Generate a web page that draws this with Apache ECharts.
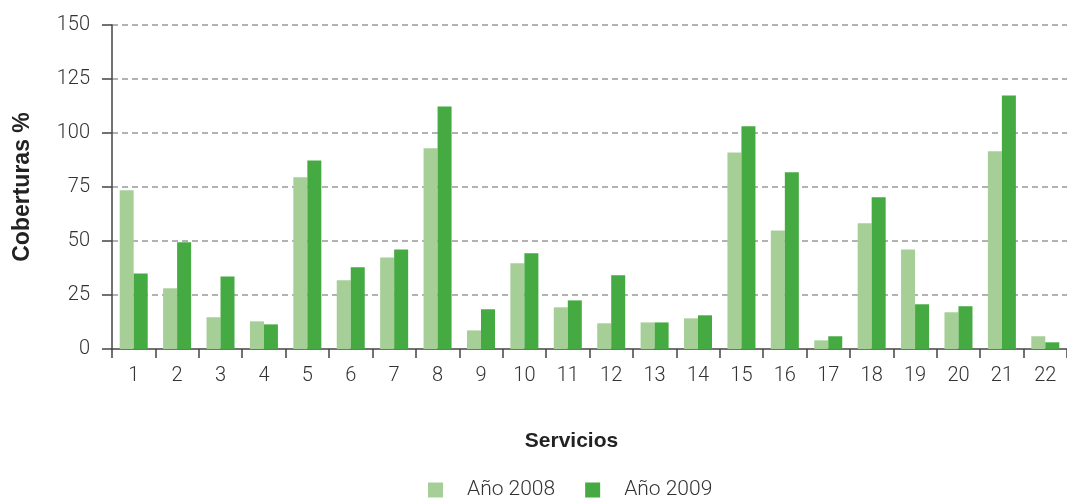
<!DOCTYPE html>
<html>
<head>
<meta charset="utf-8">
<script src="https://cdn.jsdelivr.net/npm/echarts@6/dist/echarts.min.js"></script>
<style>
  html, body { margin: 0; padding: 0; background: #fff; }
  #chart { width: 1067px; height: 498px; }
</style>
</head>
<body>
<div id="chart"></div>
<script>
// servicios 1..22
const servicios = ['1','2','3','4','5','6','7','8','9','10','11','12','13','14','15','16','17','18','19','20','21','22']
const anio2008 = [73.5, 28.1, 14.7, 12.8, 79.5, 31.8, 42.4, 92.9, 8.6, 39.7, 19.3, 11.9, 12.3, 14.2, 91.0, 54.9, 4.0, 58.2, 46.1, 17.0, 91.5, 5.9]
const anio2009 = [34.9, 49.4, 33.6, 11.4, 87.3, 37.8, 46.1, 112.3, 18.4, 44.3, 22.5, 34.1, 12.3, 15.6, 103.1, 81.8, 5.9, 70.2, 20.7, 19.8, 117.4, 3.1]
const yTicks = [0, 25, 50, 75, 100, 125, 150]

const lightFont = 'Roboto, "Liberation Sans", sans-serif'
const boldFont = '"Liberation Sans", Arial, sans-serif'
const chart = echarts.init(document.getElementById('chart'))

chart.setOption({
  animation: false,
  grid: {
    left: 112,
    right: 0,
    top: 25,
    bottom: 149,
  },
  legend: {
    top: 479,
    left: 428,
    icon: 'rect',
    itemWidth: 15,
    itemHeight: 15,
    itemGap: 30,
    padding: 0,
    textStyle: { fontFamily: lightFont, fontSize: 21, lineHeight: 22, color: '#333', fontWeight: 300, padding: [0, 0, 0, 19] },
    data: ['Año 2008', 'Año 2009'],
  },
  xAxis: {
    type: 'category',
    data: servicios,
    name: 'Servicios',
    nameLocation: 'middle',
    nameGap: 82,
    nameTextStyle: { fontFamily: boldFont, fontSize: 21, fontWeight: 'bold', color: '#222', padding: [0, 36, 0, 0] },
    axisLine: { lineStyle: { color: '#444', width: 1.5 } },
    axisTick: { show: true, length: 9, alignWithLabel: false, lineStyle: { color: '#444', width: 1.5 } },
    axisLabel: { fontFamily: lightFont, fontSize: 20, color: '#333', fontWeight: 300, margin: 17 },
  },
  yAxis: {
    type: 'value',
    min: 0,
    max: 150,
    interval: 25,
    name: 'Coberturas %',
    nameLocation: 'middle',
    nameGap: 78,
    nameRotate: 90,
    nameTextStyle: { fontFamily: boldFont, fontSize: 23, fontWeight: 'bold', color: '#222' },
    axisLine: { show: true, lineStyle: { color: '#444', width: 1.5 } },
    axisTick: { show: true, inside: false, length: 10, lineStyle: { color: '#444', width: 1.5 } },
    axisLabel: {
      fontFamily: lightFont, fontSize: 20, color: '#333', fontWeight: 300, margin: 22,
      formatter: (v) => (yTicks.indexOf(v) >= 0 ? String(v) : ''),
    },
    splitLine: {
      show: true,
      showMinLine: false,
      lineStyle: { color: '#999', type: [6, 4], width: 1.5 },
    },
  },
  series: [
    {
      name: 'Año 2008',
      type: 'bar',
      data: anio2008,
      barWidth: 14,
      barGap: '0%',
      itemStyle: { color: '#a5cf97' },
    },
    {
      name: 'Año 2009',
      type: 'bar',
      data: anio2009,
      barWidth: 14,
      itemStyle: { color: '#46aa43' },
    },
  ],
})
</script>
</body>
</html>
